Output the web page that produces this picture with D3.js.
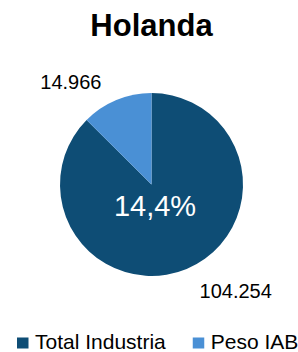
<!DOCTYPE html>
<html>
<head>
<meta charset="utf-8">
<script src="https://cdn.jsdelivr.net/npm/d3@7"></script>
<style>
	body { margin: 0; background: #fff; }
	text { font-family: "Liberation Sans", Arial, sans-serif; }
</style>
</head>
<body>
<script>
'use strict';

// Data
const title = "Holanda";
const categories = ["Total Industria", "Peso IAB"];
const values = [104254, 14966];
const valueLabels = ["104.254", "14.966"];
const centerLabel = "14,4%";
const colors = ["#0E4D75", "#4A90D5"];

const params = { width: 298, height: 352, cx: 151.5, cy: 184.5, r: 91.5 };

const svg = d3.select("body")
	.append("svg")
	.attr("width", params.width)
	.attr("height", params.height)

svg.append("text")
	.attr("x", params.cx)
	.attr("y", 36)
	.attr("text-anchor", "middle")
	.attr("font-size", 31)
	.attr("font-weight", "bold")
	.text(title)

const pie = d3.pie().sort(null).value(d => d)
const arcs = pie(values)
const arc = d3.arc().innerRadius(0).outerRadius(params.r)

const g = svg.append("g")
	.attr("transform", `translate(${params.cx}, ${params.cy})`)

g.selectAll("path")
	.data(arcs)
	.enter()
	.append("path")
	.attr("d", arc)
	.attr("fill", (d, i) => colors[i])

// outside-end labels, corner placed at the slice's mid angle
g.selectAll(".lbl")
	.data(arcs)
	.enter()
	.append("text")
	.attr("class", "lbl")
	.attr("font-size", 20)
	.attr("fill", "#000")
	.each(function(d, i) {
		const a = (d.startAngle + d.endAngle) / 2;
		const ax = Math.sin(a) * (params.r + 7.5);
		const ay = -Math.cos(a) * (params.r + 7.5);
		const right = ax >= 0;
		const top = ay < 0;
		d3.select(this)
			.attr("x", ax + (right ? 10 : -12))
			.attr("y", top ? ay - 4 : ay + 22)
			.attr("text-anchor", right ? "start" : "end")
			.text(valueLabels[i])
	})

g.append("text")
	.attr("x", 3.5)
	.attr("y", 31)
	.attr("text-anchor", "middle")
	.attr("font-size", 29)
	.attr("fill", "#fff")
	.text(centerLabel)

// legend
const legend = svg.append("g").attr("transform", "translate(17, 349)")
let lx = 0;
categories.forEach((c, i) => {
	legend.append("rect")
		.attr("x", lx)
		.attr("y", -11.5)
		.attr("width", 11.5)
		.attr("height", 11)
		.attr("fill", colors[i])
	const t = legend.append("text")
		.attr("x", lx + 18)
		.attr("y", 0)
		.attr("font-size", 21)
		.attr("fill", "#000")
		.text(c)
	lx += 18 + t.node().getComputedTextLength() + 27;
})
</script>
</body>
</html>
